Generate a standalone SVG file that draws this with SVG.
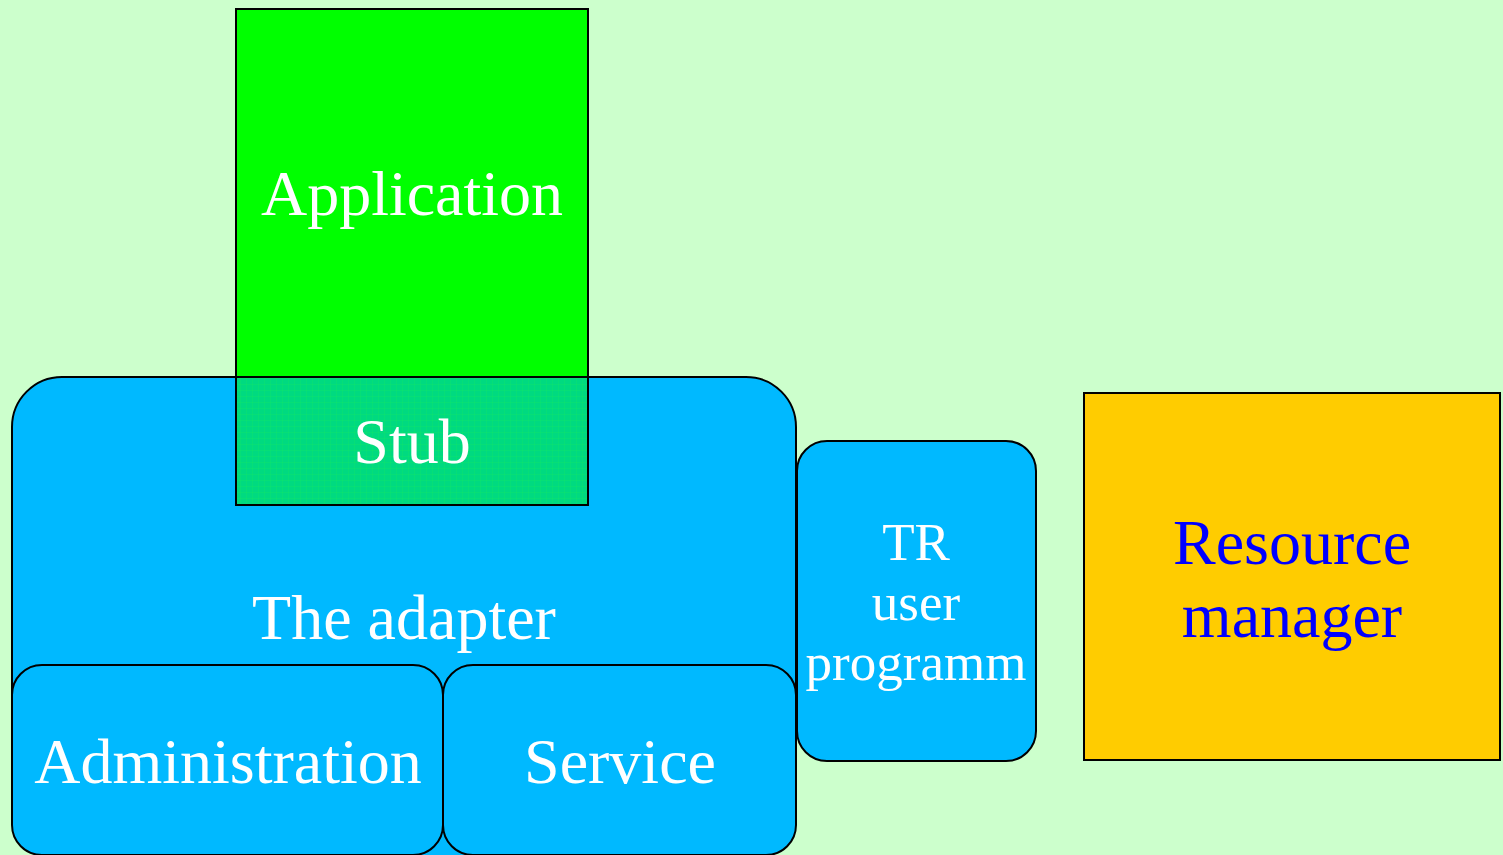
<svg xmlns="http://www.w3.org/2000/svg" width="1503" height="855" viewBox="0 0 1503 855">
<style>
.box{stroke:#000;stroke-width:2}
.blue{fill:#00B9FF}
.t{font-family:"Liberation Serif","Times New Roman",serif;fill:#fff;text-anchor:middle}
.big{font-size:64px}
.mid{font-size:53px}
</style>
<defs>
<pattern id="grid" width="6" height="6" patternUnits="userSpaceOnUse">
<rect width="6" height="6" fill="#00DA80"/>
<path d="M0 0H6M0 0V6" stroke="#14E860" stroke-width="0.6" fill="none"/>
</pattern>
</defs>
<rect width="1503" height="855" fill="#CCFFCC"/>
<g id="connectors"></g>
<g id="application">
<rect class="box" x="236" y="9" width="352" height="496" fill="#00FF00"/>
<text class="t big" x="412" y="215">Application</text>
</g>
<g id="adapter">
<rect class="box blue" x="12" y="377" width="784" height="480" rx="50" ry="50"/>
<text class="t big" x="404" y="639">The adapter</text>
</g>
<g id="stub">
<rect class="box" x="236" y="377" width="352" height="128" fill="url(#grid)"/>
<text class="t big" x="412" y="463">Stub</text>
</g>
<g id="administration">
<rect class="box blue" x="12" y="665" width="431" height="190" rx="30" ry="30"/>
<text class="t big" x="228" y="783">Administration</text>
</g>
<g id="service">
<rect class="box blue" x="443" y="665" width="353" height="190" rx="30" ry="30"/>
<text class="t big" x="620" y="783">Service</text>
</g>
<g id="tr-user-programm">
<rect class="box blue" x="797" y="441" width="239" height="320" rx="30" ry="30"/>
<text class="t mid" x="916" y="560">TR</text>
<text class="t mid" x="916" y="620">user</text>
<text class="t mid" x="916" y="680">programm</text>
</g>
<g id="resource-manager">
<rect class="box" x="1084" y="393" width="416" height="367" fill="#FFCC00"/>
<text class="t big" x="1292" y="564" style="fill:#0000FF">Resource</text>
<text class="t big" x="1292" y="637" style="fill:#0000FF">manager</text>
</g>
</svg>
